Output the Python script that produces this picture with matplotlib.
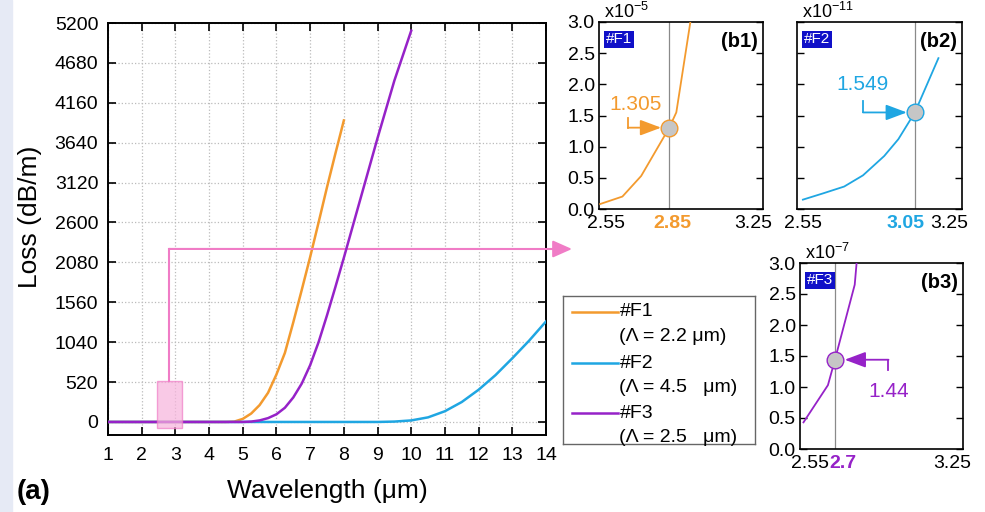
import numpy as np
import matplotlib.pyplot as plt
from matplotlib.patches import Rectangle
from matplotlib.transforms import offset_copy

plt.rcParams['font.family'] = ['Liberation Sans', 'DejaVu Sans']
plt.rcParams['mathtext.default'] = 'regular'

# (a) loss vs wavelength
wl_f1 = [1, 2, 3, 4, 4.5, 4.75, 5.0, 5.25, 5.5, 5.75, 6.0, 6.25, 6.5, 6.75, 7.0, 7.25, 7.5, 7.75, 8.0]
loss_f1 = [0, 0, 0, 0, 0, 5, 40, 110, 220, 380, 620, 900, 1300, 1720, 2150, 2600, 3060, 3500, 3930]
wl_f2 = [1, 3, 5, 7, 9, 9.5, 10, 10.5, 11, 11.5, 12, 12.5, 13, 13.5, 14]
loss_f2 = [0, 0, 0, 0, 0, 5, 20, 60, 140, 260, 420, 610, 830, 1060, 1310]
wl_f3 = [1, 2, 3, 4, 5, 5.25, 5.5, 5.75, 6.0, 6.25, 6.5, 6.75, 7.0, 7.25, 7.5, 7.75, 8.0, 8.5, 9.0, 9.5, 10.0]
loss_f3 = [0, 0, 0, 0, 0, 5, 20, 50, 100, 185, 320, 500, 740, 1040, 1390, 1760, 2140, 2920, 3700, 4450, 5100]

# zoomed insets (b1)-(b3), loss in units of the x10^n label
b1_x = [2.555, 2.65, 2.73, 2.85, 2.88, 2.94, 2.97]
b1_y = [0.08, 0.20, 0.53, 1.305, 1.55, 3.0, 3.7]
b2_x = [2.575, 2.66, 2.75, 2.83, 2.92, 2.98, 3.05, 3.15]
b2_y = [0.15, 0.25, 0.36, 0.54, 0.85, 1.12, 1.549, 2.42]
b3_x = [2.565, 2.67, 2.70, 2.785, 2.80]
b3_y = [0.43, 1.03, 1.44, 2.65, 3.3]

names = ['#F1', '#F2', '#F3']
pitch = ['(Λ = 2.2 μm)', '(Λ = 4.5   μm)', '(Λ = 2.5   μm)']
c1, c2, c3 = '#f39a2e', '#1fa6e2', '#9622c8'
pink = '#f07cc6'

W, H = 985, 512
fig = plt.figure(figsize=(W/100, H/100), dpi=100)
fig.patches.append(Rectangle((0, 0), 12/W, 1, transform=fig.transFigure,
                             color='#e6eaf5', zorder=0))

def px(l, t, r, b):
    return [l/W, 1 - b/H, (r-l)/W, (b-t)/H]

# ---- main panel
ax = fig.add_axes(px(108, 23, 546, 435))
ax.plot(wl_f1, loss_f1, color=c1, lw=1.8, zorder=3)
ax.plot(wl_f2, loss_f2, color=c2, lw=1.8, zorder=3)
ax.plot(wl_f3, loss_f3, color=c3, lw=1.8, zorder=4)
ax.set_xlim(1, 14)
ax.set_ylim(-170, 5200)
ax.set_xticks(np.arange(1, 15))
ax.set_yticks(np.arange(0, 5201, 520))
ax.grid(True, ls=':', color='#bbbbbb', lw=0.9)
ax.tick_params(direction='in', top=True, right=True, length=6, width=1.2,
               labelsize=14, pad=7)
ax.tick_params(axis='x', pad=9)
for s in ax.spines.values():
    s.set_linewidth(1.4)

ax.add_patch(Rectangle((2.45, -82), 0.75, 620, facecolor='#f7b3dc', alpha=0.7,
                       edgecolor=pink, lw=1, zorder=5))
ax.plot([2.81, 2.81], [538, 2255], color=pink, lw=1.5, zorder=5)
ax.annotate('', xy=(572/W, 1 - 249/H), xycoords='figure fraction',
            xytext=(2.81, 2255), textcoords='data',
            arrowprops=dict(arrowstyle='-|>,head_length=0.9,head_width=0.4',
                            color=pink, lw=1.5, mutation_scale=13, shrinkA=0, shrinkB=0))

fig.text(327/W, 1 - 491/H, 'Wavelength (μm)', ha='center', va='center', fontsize=19)
fig.text(30/W, 1 - 217/H, 'Loss (dB/m)', ha='center', va='center', fontsize=19,
         rotation=90)
fig.text(34/W, 1 - 492/H, '(a)', ha='center', va='center', fontsize=20,
         fontweight='bold')

# ---- insets
def inset(rect, xs, ys, col, xm, ym, tag, panel, expo, xlab, shifts, showy):
    a = fig.add_axes(rect)
    a.plot(xs, ys, color=col, lw=1.3, zorder=3)
    a.axvline(xm, color='#8a8a8a', lw=0.9, zorder=2)
    a.plot([xm], [ym], 'o', ms=12, mfc='#c6c6c6', mec=col, mew=1, zorder=4)
    a.set_xlim(2.55, 3.25)
    a.set_ylim(0, 3.0)
    a.set_xticks([2.55, xm, 3.25])
    a.set_xticklabels([])
    # x tick labels placed by hand, nudged sideways like the original
    for xv, lab, dx in zip([2.55, xm, 3.25], ['2.55', xlab, '3.25'], shifts):
        bold = lab == xlab
        a.text(xv, 0, lab, transform=offset_copy(a.get_xaxis_transform(), fig=fig,
                                                 x=dx, y=-6, units='dots'),
               ha='center', va='top', fontsize=14,
               color=col if bold else 'black', fontweight='bold' if bold else 'normal')
    a.set_yticks(np.arange(0, 3.01, 0.5))
    a.set_yticklabels(['%.1f' % v for v in np.arange(0, 3.01, 0.5)])
    a.tick_params(direction='in', left=True, right=True, bottom=False,
                  length=5, width=1, labelsize=14, pad=3, labelleft=showy)
    for s in a.spines.values():
        s.set_linewidth(1.2)
    a.text(2.636, 2.72, tag, color='white', fontsize=11, ha='center', va='center',
           bbox=dict(boxstyle='square,pad=0.12', fc='#1010c8', ec='none'))
    a.text(3.23, 2.68, panel, fontsize=14.5, fontweight='bold',
           ha='right', va='center')
    a.text(0.03, 1.0, 'x10$^{%d}$' % expo, transform=a.transAxes, fontsize=13,
           ha='left', va='bottom')
    return a

b1 = inset(px(599, 22, 763, 209), b1_x, b1_y, c1, 2.85, 1.305, '#F1', '(b1)', -5,
           '2.85', [7, 3, -10], True)
b1.plot([2.673, 2.673], [1.455, 1.305], color=c1, lw=1.3)
b1.annotate('', xy=(2.815, 1.305), xytext=(2.673, 1.305),
            arrowprops=dict(arrowstyle='-|>,head_length=0.8,head_width=0.3',
                            color=c1, lw=1.3, mutation_scale=16, shrinkA=0, shrinkB=0))
b1.text(2.706, 1.68, '1.305', color=c1, fontsize=15, ha='center', va='center')

b2 = inset(px(797, 22, 962, 209), b2_x, b2_y, c2, 3.05, 1.549, '#F2', '(b2)', -11,
           '3.05', [6, -9, -13], False)
b2.plot([2.83, 2.83], [1.73, 1.549], color=c2, lw=1.3)
b2.annotate('', xy=(3.016, 1.549), xytext=(2.83, 1.549),
            arrowprops=dict(arrowstyle='-|>,head_length=0.8,head_width=0.3',
                            color=c2, lw=1.3, mutation_scale=16, shrinkA=0, shrinkB=0))
b2.text(2.827, 2.0, '1.549', color=c2, fontsize=15, ha='center', va='center')

b3 = inset(px(800, 263, 963, 449), b3_x, b3_y, c3, 2.7, 1.44, '#F3', '(b3)', -7,
           '2.7', [10, 8, -11], True)
b3.plot([2.93, 2.93], [1.27, 1.44], color=c3, lw=1.3)
b3.annotate('', xy=(2.742, 1.44), xytext=(2.93, 1.44),
            arrowprops=dict(arrowstyle='-|>,head_length=0.8,head_width=0.3',
                            color=c3, lw=1.3, mutation_scale=16, shrinkA=0, shrinkB=0))
b3.text(2.93, 0.93, '1.44', color=c3, fontsize=15, ha='center', va='center')

# ---- legend box
lax = fig.add_axes(px(563, 296, 755, 444))
lax.set_xlim(0, 1)
lax.set_ylim(0, 1)
lax.set_xticks([])
lax.set_yticks([])
for s in lax.spines.values():
    s.set_color('#666666')
    s.set_linewidth(1)
rows = [(0.892, 0.723), (0.547, 0.385), (0.209, 0.041)]
for (ya, yb), col, nm, pt in zip(rows, [c1, c2, c3], names, pitch):
    lax.plot([0.047, 0.286], [ya, ya], color=col, lw=1.8)
    lax.text(0.297, ya, nm, fontsize=14, ha='left', va='center')
    lax.text(0.292, yb, pt, fontsize=14, ha='left', va='center')

fig.savefig('out.png', dpi=100)
